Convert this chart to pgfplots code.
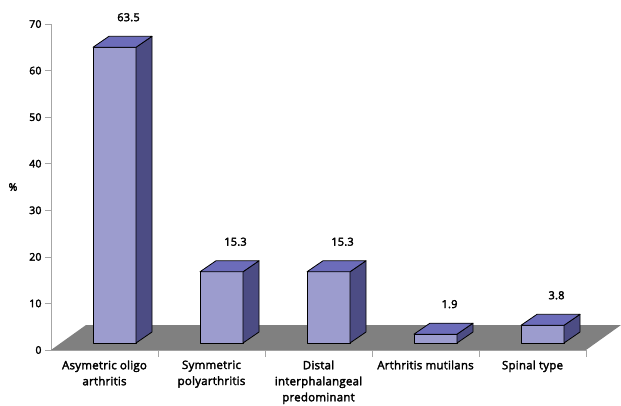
\documentclass[border=0pt]{standalone}
\usepackage{pgfplots}
\pgfplotsset{compat=1.18}
\usepackage{fontspec}
\setmainfont{Open Sans}
\newfontfamily\lbl{Open Sans}[FakeBold=2.6, LetterSpace=2]

\definecolor{barfront}{HTML}{9C9CCE}
\definecolor{bartop}{HTML}{6C6CBA}
\definecolor{barside}{HTML}{4C4C84}
\definecolor{floorgray}{HTML}{808080}
\definecolor{axisgray}{HTML}{A6A6A6}

% a cuboid whose top sits at the data point and whose base rests on the floor;
% \ry is the bar's value, 4.657pt is one unit on the y axis
\pgfdeclareplotmark{cuboid}{%
  \pgfmathsetmacro\h{\ry*4.657}%
  \filldraw[fill=barfront, draw=black, line width=0.8pt, line join=round]
    (-11.5pt,7pt-\h pt) rectangle (31.5pt,7pt);
  \filldraw[fill=barside, draw=black, line width=0.8pt, line join=round]
    (31.5pt,7pt-\h pt) -- (47.5pt,18pt-\h pt) -- (47.5pt,18pt) -- (31.5pt,7pt) -- cycle;
  \filldraw[fill=bartop, draw=black, line width=0.8pt, line join=round]
    (-11.5pt,7pt) -- (31.5pt,7pt) -- (47.5pt,18pt) -- (4.5pt,18pt) -- cycle;
}

\pgfplotstableread{
x   y
0.5 63.5
1.5 15.3
2.5 15.3
3.5 1.9
4.5 3.8
}\forms

\begin{document}
\begin{tikzpicture}
\useasboundingbox (-51pt,-55pt) rectangle (570pt,350pt);
\begin{axis}[
  at={(0,0)}, anchor=origin,
  x=107pt, y=4.657pt,
  xmin=0, xmax=5, ymin=0, ymax=70,
  axis x line*=bottom, axis y line*=left,
  axis line style={axisgray, line width=0.6pt},
  clip=false,
  ytick={0,10,...,70},
  xtick={0.5,1.5,2.5,3.5,4.5},
  xticklabels={Asymetric oligo\\arthritis, Symmetric\\polyarthritis, Distal\\interphalangeal\\predominant, Arthritis mutilans, Spinal type},
  minor xtick={1,2,3,4,5},
  major x tick style={draw=none},
  minor x tick style={axisgray, line width=0.6pt},
  y tick style={axisgray, line width=0.6pt},
  tick align=outside,
  major tick length=6pt, minor tick length=7pt,
  xticklabel style={align=center, font=\lbl\fontsize{11.5}{16}\selectfont, yshift=-1pt},
  yticklabel style={font=\lbl\fontsize{10.5}{12}\selectfont},
  /pgf/number format/assume math mode=true,
  ylabel={\%},
  every axis y label/.style={at={(rel axis cs:0,0.5)}, xshift=-38pt, anchor=center, font=\lbl\fontsize{10.5}{12}\selectfont},
]
% grey floor under the bars
\fill[floorgray] (axis cs:0,0) -- (axis cs:5,0) -- ([shift={(35pt,25pt)}]axis cs:5,0) -- ([shift={(35pt,25pt)}]axis cs:0,0) -- cycle;

% 3D bars, one cuboid per value
\addplot[
  only marks, mark=cuboid,
  visualization depends on={rawy \as \ry},
  point meta=rawy,
  nodes near coords={\pgfmathprintnumber[fixed,precision=1]{\pgfplotspointmeta}},
  every node near coord/.append style={anchor=center, xshift=24pt, yshift=37pt,
    font=\lbl\fontsize{11}{12}\selectfont, text=black},
] table[x=x, y=y] {\forms};
\end{axis}
\end{tikzpicture}
\end{document}
